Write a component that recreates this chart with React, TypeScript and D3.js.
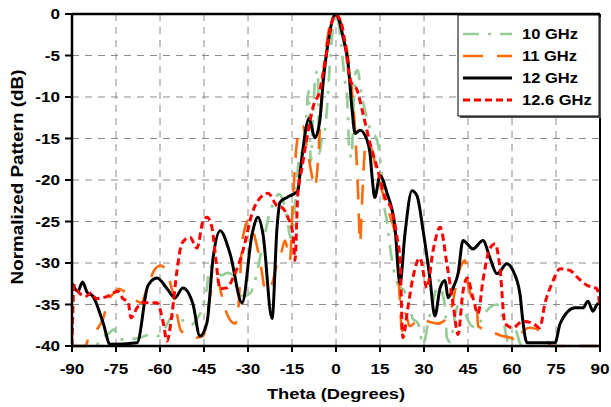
import React from "react";
import * as d3 from "d3";

const width = 611, height = 407;
const plotLeft = 72, plotRight = 600, plotTop = 14, plotBottom = 346;

const thetaTicks = [-90, -75, -60, -45, -30, -15, 0, 15, 30, 45, 60, 75, 90];
const dbTicks = [0, -5, -10, -15, -20, -25, -30, -35, -40];
const seriesNames = ["10 GHz", "11 GHz", "12 GHz", "12.6 GHz"];

// [theta (deg), normalized pattern (dB)]
const ghz10: [number, number][] = [
  [-90, -40], [-82, -40], [-80, -39], [-77.5, -38.5], [-75.7, -38], [-74, -39.2], [-72, -39.2], [-67, -39],
  [-63, -38.6], [-60.7, -38.8], [-58.3, -37.8], [-56, -36.5], [-54, -36.3], [-52, -37], [-49.5, -37.5],
  [-47, -36.5], [-45.6, -35.5], [-44, -33], [-43, -30.5], [-41.5, -30.7], [-39, -31.5], [-37, -31.2],
  [-35, -31.5], [-33.5, -33.5], [-31.5, -34], [-29, -33.5], [-27.5, -32], [-26, -29.5], [-24.5, -27],
  [-23, -24.5], [-21, -22.5], [-19.5, -21.7], [-18, -22.5], [-16.5, -25], [-15.5, -27], [-14.7, -26],
  [-14, -23], [-13.2, -19.5], [-12.5, -17], [-11.3, -16.5], [-10.2, -12.5], [-9.3, -9.3], [-8.6, -17.8],
  [-7.8, -12], [-7, -7.5], [-6.2, -6.8], [-5.7, -16.8], [-4.8, -15], [-4, -14.5], [-3, -11], [-2, -5.5],
  [-1, -1.5], [0, 0], [1, -1.3], [2, -4.5], [3, -8], [3.8, -10], [4.5, -16], [5.3, -17.3], [6, -11],
  [6.7, -7], [7.5, -6.8], [8.3, -8.8], [9.3, -10.7], [10.5, -12.5], [12, -14.2], [13.5, -14.8],
  [14.5, -16], [15.5, -19], [16.3, -22.8], [17.4, -25], [18.4, -28], [19.5, -30.5], [21, -32.5],
  [23.5, -33.5], [25.2, -35.4], [26, -36.6], [28, -37.3], [29.7, -39.8], [31.5, -37], [33.5, -34],
  [35, -32.1], [36.1, -33.4], [37.2, -35.4], [37.8, -39], [39, -39.5], [40.5, -36.5], [42.5, -34.5],
  [44, -36], [46, -37.5], [48, -37.8], [50, -36.5], [52, -35.5], [55, -35], [57, -37], [59, -39.8],
  [61, -38], [63, -39.8], [65, -40], [90, -40],
];

const ghz11: [number, number][] = [
  [-90, -40], [-85.5, -40], [-84.5, -39.2], [-81.1, -37.8], [-79.4, -36.7], [-77.7, -34.6], [-75.7, -33.6],
  [-74, -33.1], [-71.6, -33.6], [-69.2, -34.2], [-66.5, -34.8], [-64.1, -32.7], [-62, -30.9], [-59.7, -30.3],
  [-58, -30.9], [-55.2, -34.2], [-52.8, -38.2], [-47.7, -39], [-45.3, -38.8], [-42.6, -33.4], [-41.6, -32.1],
  [-40.6, -31.8], [-38.9, -34], [-37.2, -36.1], [-34.4, -37.3], [-33.4, -35.8], [-32, -27.7], [-31, -25.7],
  [-30, -24.9], [-28.3, -26.1], [-25.9, -29.7], [-23.9, -33.4], [-21.8, -32.5], [-20.1, -30.1],
  [-19.1, -29.4], [-17.4, -27.3], [-15.7, -29.7], [-14.7, -22.5], [-13.6, -16.4], [-12.3, -13.7],
  [-11.3, -13.5], [-9.9, -16.1], [-8.2, -19.5], [-7.2, -20.9], [-6.1, -17.6], [-4.8, -9.2], [-3, -3.1],
  [-1.4, -0.5], [0, 0], [1.7, -1], [3.4, -3.7], [5.1, -8], [6.5, -14], [7.5, -21.3], [8.2, -27.6],
  [8.9, -22.5], [9.9, -16.4], [10.9, -15.6], [12.3, -16.4], [13.6, -18.5], [15.7, -21.3], [18.4, -24.3],
  [20.5, -27.3], [21.8, -34.6], [22.5, -38.2], [23.5, -36.1], [25.2, -37.6], [28.6, -36.7], [32, -37.1],
  [34.8, -37.3], [38.2, -36.4], [39.9, -34.6], [41.2, -32.1], [42.9, -30.1], [44, -29.7], [45, -32.5],
  [46.4, -34.2], [48.1, -35.4], [48.4, -37.6], [52.5, -38.2], [55.9, -38.7], [59.3, -39], [62.7, -39.4],
  [63.4, -38.4], [66.1, -37.8], [70.6, -38.4], [72.3, -39.6], [73.6, -40], [90, -40],
];

const ghz12: [number, number][] = [
  [-90, -32.5], [-88, -33.4], [-86.4, -32.3], [-84.9, -33.5], [-82.9, -34], [-79.4, -37.2], [-77, -39.8],
  [-67.8, -39.6], [-64.1, -32.7], [-61, -31.8], [-57.6, -33.1], [-54.9, -34.2], [-52.2, -33], [-48.8, -34.9],
  [-46.4, -38.8], [-44, -37.2], [-41.9, -29.4], [-39.5, -26.1], [-36.1, -28.9], [-32, -34.8], [-28.6, -26.5],
  [-26.6, -24.5], [-24.9, -26.5], [-21.8, -36.7], [-20.1, -25.7], [-19.1, -22.7], [-16.7, -22.1],
  [-14, -21.6], [-13, -21.3], [-12.2, -19], [-11.3, -16.4], [-9.2, -12.6], [-7.2, -14.9], [-5.5, -12.8],
  [-4.4, -8.3], [-2.7, -3.5], [-0.3, -0.1], [0.7, -0.4], [2.4, -2.8], [4.1, -5.9], [5.5, -11.6],
  [6.5, -14.4], [8.2, -14], [10.6, -15.2], [11.6, -16.8], [12.4, -20], [13.2, -22.1], [15, -19.5],
  [17.4, -21.6], [20.1, -25.7], [21.8, -32.5], [23.5, -26.5], [25.9, -21.3], [27.6, -21.9], [29.7, -26.1],
  [32, -31.8], [33.7, -36.4], [35.5, -33], [37.2, -32.1], [38.2, -34.2], [39.9, -33], [41.6, -31.3],
  [43.3, -27.3], [46.7, -28.3], [50.1, -27.3], [52.5, -29.4], [54.9, -31.3], [58.3, -30.1], [60.3, -30.9],
  [62.7, -33.7], [63.7, -37], [65.1, -39.6], [74.7, -39.6], [76.4, -37.3], [81.5, -35.4], [84.2, -35.4],
  [85.9, -34.6], [87.6, -35.8], [89.3, -34.9], [90, -34.9],
];

const ghz126: [number, number][] = [
  [-90, -40], [-89.3, -32.7], [-87.6, -33.6], [-85.2, -34], [-83.5, -33.6], [-81.8, -34.3], [-80.1, -34.2],
  [-77.7, -34], [-76, -33.6], [-74.3, -33.4], [-72.6, -34.3], [-70.9, -34.6], [-69.9, -36.6], [-67.8, -35.4],
  [-65.8, -34.8], [-61, -34.8], [-59, -37], [-57.6, -39.4], [-55.9, -36.1], [-54.2, -30.9], [-52.5, -27.6],
  [-49.8, -26.9], [-47.4, -28.2], [-45.3, -24.9], [-44, -24.5], [-42.3, -25.7], [-41.3, -28.5],
  [-39.5, -33.1], [-37.2, -33], [-35.1, -31.8], [-31.7, -28.5], [-28.6, -24], [-26.6, -22.5],
  [-23.2, -21.6], [-20.1, -23.1], [-18.4, -23.3], [-16.4, -24.5], [-14.7, -26.5], [-14, -29.7],
  [-13, -21.6], [-11.6, -18.5], [-9.9, -14.9], [-7.8, -11.2], [-5.5, -9.2], [-3.8, -5.9], [-2, -1.9],
  [-0.3, -0.1], [1.4, -0.7], [3.1, -3.5], [4.8, -8], [7.2, -9.2], [9.2, -12], [11.6, -15.6], [14, -18.5],
  [16.7, -22.1], [19.1, -23.7], [20.8, -26.9], [21.8, -29.4], [22.8, -39], [24.5, -35.4], [26.2, -31.8],
  [28.6, -29.4], [31, -33], [33.1, -28.5], [35.5, -25.7], [37.8, -30.1], [39.9, -34.9], [41.6, -38.6],
  [43.3, -33.4], [44.7, -31.8], [46.7, -34.2], [48.4, -36.1], [50.1, -32.1], [52.5, -28.2], [54.2, -27.7],
  [55.9, -30.6], [57.6, -37.3], [60.3, -37.8], [63.7, -37], [67.2, -37.3], [69.5, -37.8], [71.2, -34.9],
  [73.6, -32.5], [76.4, -30.7], [79.8, -30.9], [82.5, -31.8], [85.6, -32.7], [89, -33.1], [90, -35.5],
];

const styles = [
  { data: ghz10, color: "#97cc97", dash: "16,9,3,9", w: 2.7 },
  { data: ghz11, color: "#ff6a0a", dash: "20,14", w: 2.6 },
  { data: ghz12, color: "#000000", dash: "none", w: 3 },
  { data: ghz126, color: "#ff0000", dash: "7,4", w: 3 },
];

const font = "'Liberation Sans', Arial, sans-serif";
const stretch = 1.18; // the reference lettering is a little wide

// bold label, widened along its own baseline
function Label({ x, y, size, anchor = "start", rotate = 0, children }: any) {
  return (
    <text transform={`translate(${x},${y}) rotate(${rotate}) scale(${stretch},1)`}
      textAnchor={anchor} fontFamily={font} fontWeight="bold" fontSize={size}>
      {children}
    </text>
  );
}

export default function App() {
  const x = d3.scaleLinear().domain([-90, 90]).range([plotLeft, plotRight]);
  const y = d3.scaleLinear().domain([-40, 0]).range([plotBottom, plotTop]);
  const line = d3.line<[number, number]>()
    .x(d => x(d[0]))
    .y(d => y(Math.max(-40, d[1])))
    .curve(d3.curveMonotoneX);

  const legX = 458, legY = 15, legW = 141, legH = 101;

  return (
    <div style={{ position: "absolute", left: 0, top: 0 }}>
      <svg width={width} height={height} style={{ display: "block", background: "#fff" }}>
        <defs>
          <clipPath id="plot">
            <rect x={plotLeft} y={plotTop - 2} width={plotRight - plotLeft} height={plotBottom - plotTop + 4} />
          </clipPath>
        </defs>

        {/* grid */}
        {thetaTicks.slice(1, -1).map(t => (
          <line key={"gx" + t} x1={x(t)} x2={x(t)} y1={plotTop} y2={plotBottom}
            stroke="#8c8c8c" strokeWidth={1} strokeDasharray="7,6" />
        ))}
        {dbTicks.slice(1, -1).map(t => (
          <line key={"gy" + t} x1={plotLeft} x2={plotRight} y1={y(t)} y2={y(t)}
            stroke="#8c8c8c" strokeWidth={1} strokeDasharray="7,6" />
        ))}

        {/* curves */}
        <g clipPath="url(#plot)">
          {styles.map((s, i) => (
            <path key={i} d={line(s.data) || ""} fill="none" stroke={s.color}
              strokeWidth={s.w} strokeDasharray={s.dash} strokeLinejoin="round" />
          ))}
        </g>

        {/* frame */}
        <line x1={plotLeft} x2={plotRight} y1={plotTop} y2={plotTop} stroke="#000" strokeWidth={2.5} />
        <line x1={plotRight} x2={plotRight} y1={plotTop} y2={plotBottom} stroke="#000" strokeWidth={2} />
        <line x1={plotLeft} x2={plotRight + 1} y1={plotBottom} y2={plotBottom} stroke="#000" strokeWidth={2.5} />
        <line x1={plotLeft} x2={plotLeft} y1={plotTop - 1} y2={plotBottom + 1} stroke="#000" strokeWidth={2.5} />

        {/* ticks */}
        {thetaTicks.map(t => (
          <g key={"tx" + t}>
            <line x1={x(t)} x2={x(t)} y1={plotBottom} y2={plotBottom + 6} stroke="#000" strokeWidth={2} />
            <Label x={x(t)} y={374} size={14.5} anchor="middle">{t}</Label>
          </g>
        ))}
        {dbTicks.map(t => (
          <g key={"ty" + t}>
            <line x1={plotLeft - 7} x2={plotLeft} y1={y(t)} y2={y(t)} stroke="#000" strokeWidth={2} />
            <Label x={60} y={y(t) + 5} size={14.5} anchor="end">{t}</Label>
          </g>
        ))}

        <Label x={336} y={399} size={15.5} anchor="middle">Theta (Degrees)</Label>
        <Label x={23} y={177} size={16} anchor="middle" rotate={-90}>Normalized Pattern (dB)</Label>

        {/* legend */}
        <rect x={legX + 2} y={legY + 2} width={legW} height={legH} fill="#555" />
        <rect x={legX} y={legY} width={legW} height={legH} fill="#fff" stroke="#000" strokeWidth={1} />
        {styles.map((s, i) => {
          const ly = legY + 19 + i * 22;
          return (
            <g key={"leg" + i}>
              <line x1={legX + 5} x2={legX + 54} y1={ly} y2={ly} stroke={s.color} strokeWidth={s.w}
                strokeDasharray={s.dash} />
              <Label x={legX + 64} y={ly + 5} size={14}>{seriesNames[i]}</Label>
            </g>
          );
        })}
      </svg>
    </div>
  );
}
